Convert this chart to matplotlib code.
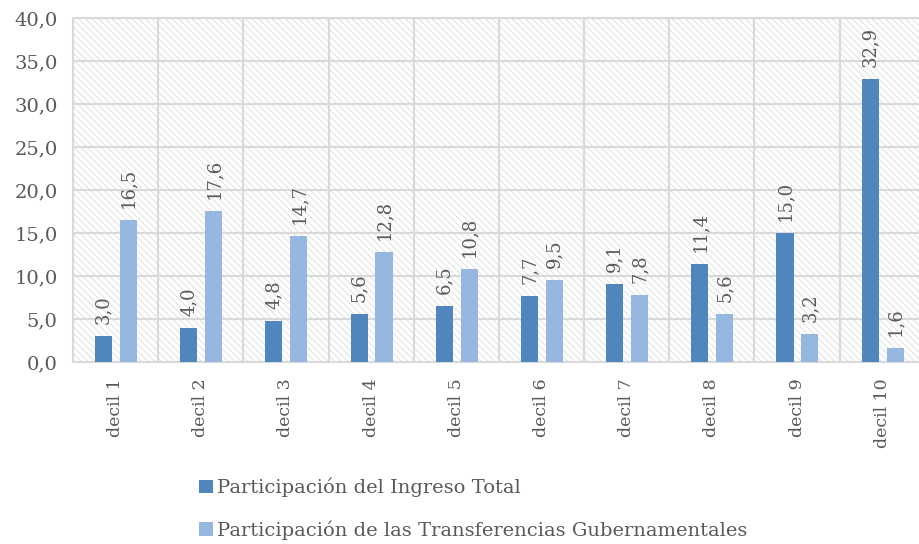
import matplotlib.pyplot as plt
import numpy as np
from matplotlib.patches import Rectangle

plt.rcParams['font.family'] = ['DejaVu Serif']
plt.rcParams['hatch.color'] = '#dcdcdc'
plt.rcParams['hatch.linewidth'] = 0.6

deciles = ['decil 1', 'decil 2', 'decil 3', 'decil 4', 'decil 5',
           'decil 6', 'decil 7', 'decil 8', 'decil 9', 'decil 10']
ingreso = [3.0, 4.0, 4.8, 5.6, 6.5, 7.7, 9.1, 11.4, 15.0, 32.9]
transf = [16.5, 17.6, 14.7, 12.8, 10.8, 9.5, 7.8, 5.6, 3.2, 1.6]

fig = plt.figure(figsize=(9.19, 5.44), dpi=100)
ax = fig.add_axes([0.0794, 0.3346, 0.927, 0.632])

x = np.arange(len(deciles))
w = 0.2
c1 = '#4f86be'
c2 = '#95b7e0'
txt = '#595959'

# hatched background
ax.add_patch(Rectangle((0, 0), 1, 1, transform=ax.transAxes, facecolor='white',
                       edgecolor='#dcdcdc', linewidth=0, hatch='\\\\\\\\\\',
                       zorder=0))

b1 = ax.bar(x - 0.142, ingreso, w, color=c1, zorder=3,
            label='Participación del Ingreso Total')
b2 = ax.bar(x + 0.151, transf, w, color=c2, zorder=3,
            label='Participación de las Transferencias Gubernamentales')

for xi, v in zip(x, ingreso):
    ax.text(xi - 0.142, v + 1.4, f'{v:.1f}'.replace('.', ','), rotation=90,
            ha='center', va='bottom', fontsize=13, color=txt, zorder=4)
for xi, v in zip(x, transf):
    ax.text(xi + 0.151, v + 1.4, f'{v:.1f}'.replace('.', ','), rotation=90,
            ha='center', va='bottom', fontsize=13, color=txt, zorder=4)

ax.set_xlim(-0.5, 9.5)
ax.set_ylim(0, 40)
ax.set_yticks(np.arange(0, 41, 5))
ax.set_yticklabels([f'{t:.1f}'.replace('.', ',') for t in np.arange(0, 41, 5)])
ax.set_xticks(x)
ax.set_xticklabels(deciles, rotation=90)
ax.set_xticks(np.arange(-0.5, 10, 1), minor=True)
ax.tick_params(axis='both', which='both', length=0, colors=txt)
ax.tick_params(axis='y', labelsize=14, pad=11)
ax.tick_params(axis='x', labelsize=12.5, pad=12)
ax.grid(True, axis='y', color='#d9d9d9', linewidth=1.5, zorder=1)
ax.grid(True, axis='x', which='minor', color='#d9d9d9', linewidth=1.5, zorder=1)
ax.grid(False, axis='x', which='major')
ax.set_axisbelow(True)
for s in ax.spines.values():
    s.set_color('#d9d9d9')
    s.set_linewidth(1.5)

fig.legend(handles=[b1, b2], loc='upper left', bbox_to_anchor=(0.217, 0.122),
           frameon=False, fontsize=14, handlelength=0.7, handleheight=0.7,
           handletextpad=0.2, labelspacing=1.2, labelcolor=txt,
           borderaxespad=0, borderpad=0)

fig.savefig('out.png', dpi=100)
